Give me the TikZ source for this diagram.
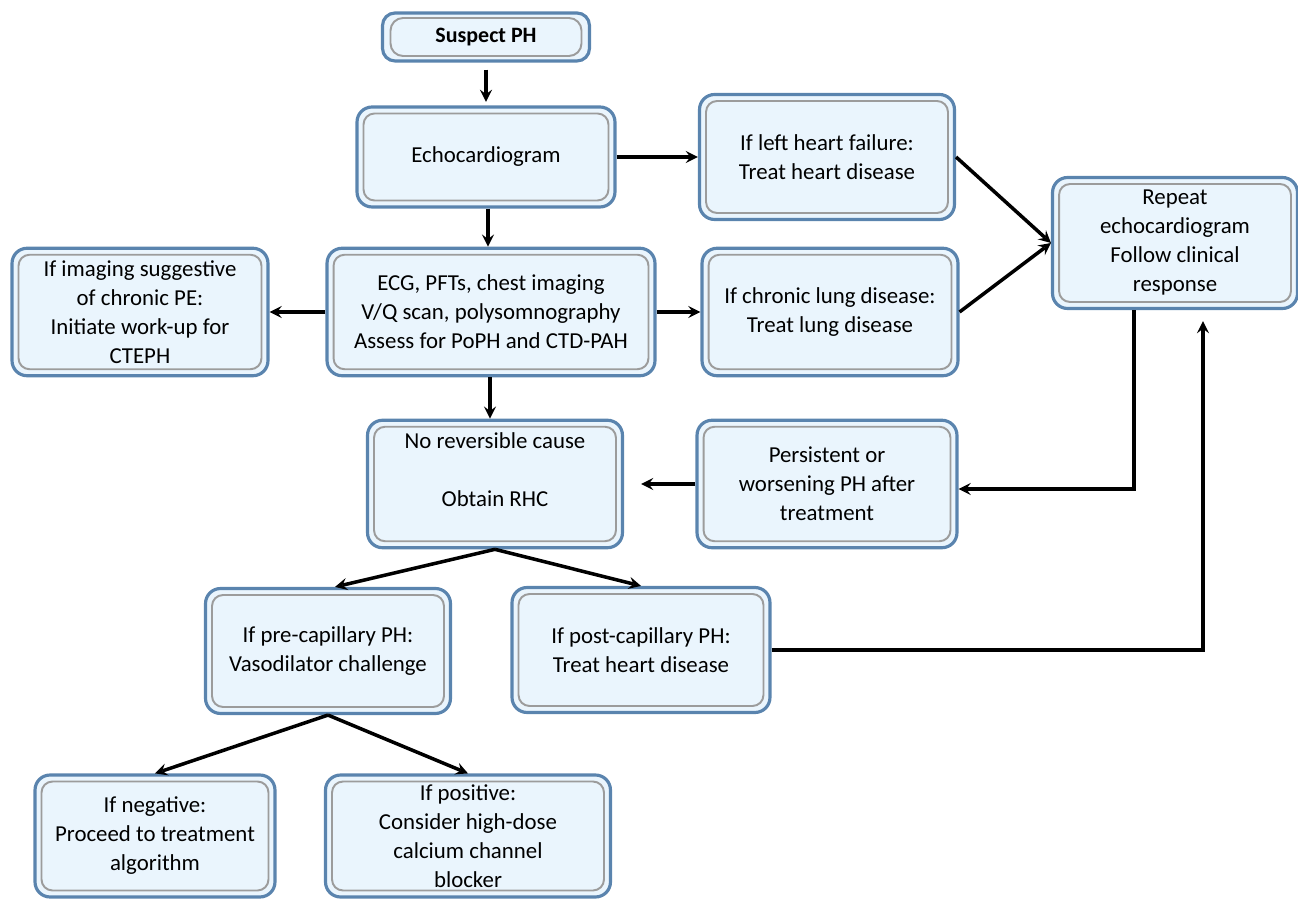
\documentclass[tikz,border=0pt]{standalone}
\usepackage{fontspec}
\setmainfont{Carlito}
\usetikzlibrary{arrows}

\definecolor{boxfill}{HTML}{EAF5FD}
\definecolor{boxedge}{HTML}{5A84AE}
\definecolor{boxinner}{HTML}{9C9C9C}

\tikzstyle{box} = [rectangle, rounded corners=0.3cm, minimum height=2.55cm, align=center, draw=boxedge, line width=1.8pt, fill=boxfill, font=\fontsize{13}{16.5}\selectfont, path picture={\draw[boxinner, line width=1.1pt, rounded corners=0.22cm] ([shift={(0.13cm,-0.13cm)}]path picture bounding box.north west) rectangle ([shift={(-0.13cm,0.13cm)}]path picture bounding box.south east);}]
\tikzstyle{topbox} = [rectangle, rounded corners=0.25cm, minimum width=4.14cm, minimum height=0.96cm, draw=boxedge, line width=1.8pt, fill=boxfill, font=\fontsize{12.5}{15.5}\selectfont\bfseries, path picture={\draw[boxinner, line width=1.1pt] ([shift={(0.16cm,-0.1cm)}]path picture bounding box.north west) rectangle ([shift={(-0.16cm,0.1cm)}]path picture bounding box.south east);}]
\tikzstyle{arrow} = [line width=2pt,->,>=stealth]

\begin{document}
\begin{tikzpicture}[x=0.02cm, y=-0.02cm]
    \useasboundingbox (0,0) rectangle (1298,901);

    \node (suspect) [topbox] at (486,37) {Suspect PH};
    \node (echo) [box, minimum width=5.16cm, minimum height=2cm] at (486,157) {Echocardiogram};
    \node (leftheart) [box, minimum width=5.1cm, minimum height=2.5cm] at (827,157) {If left heart failure:\\Treat heart disease};
    \node (repeat) [box, minimum width=4.9cm, minimum height=2.62cm] at (1175,243) {Repeat\\echocardiogram\\Follow clinical\\response};

    \node (imaging) [box, minimum width=5.12cm] at (140,312) {If imaging suggestive\\of chronic PE:\\Initiate work-up for\\CTEPH};
    \node (ecg) [box, minimum width=6.56cm] at (491,312) {ECG, PFTs, chest imaging\\V/Q scan, polysomnography\\Assess for PoPH and CTD-PAH};
    \node (lung) [box, minimum width=5.12cm] at (830,312) {If chronic lung disease:\\Treat lung disease};

    \node (norev) [box, minimum width=5.1cm] at (495,484) {No reversible cause\\[17pt]Obtain RHC\\~};
    \node (persist) [box, minimum width=5.2cm] at (827,484) {Persistent or\\worsening PH after\\treatment};

    \node (precap) [box, minimum width=4.9cm, minimum height=2.5cm] at (328,651) {If pre-capillary PH:\\Vasodilator challenge};
    \node (postcap) [box, minimum width=5.16cm, minimum height=2.5cm] at (641,650) {If post-capillary PH:\\Treat heart disease};

    \node (negative) [box, minimum width=4.8cm, minimum height=2.44cm] at (155,836) {If negative:\\Proceed to treatment\\algorithm};
    \node (positive) [box, minimum width=5.7cm, minimum height=2.44cm] at (468,836) {If positive:\\Consider high-dose\\calcium channel\\blocker};

    \draw [arrow, shorten <=4pt, shorten >=2pt] (suspect) -- (echo);
    \draw [arrow] (echo) -- (leftheart);
    \draw [arrow] ([xshift=0.04cm]echo.south) -- ([xshift=0.04cm]echo.south |- ecg.north);
    \draw [arrow] (ecg) -- (imaging);
    \draw [arrow] (ecg) -- (lung);
    \draw [arrow] ([xshift=-0.02cm]ecg.south) -- ([xshift=-0.02cm]ecg.south |- norev.north);

    \draw [arrow] (leftheart.east) -- (repeat.west);
    \draw [arrow] (lung.east) -- (repeat.west);
    \draw [arrow] ([xshift=-0.82cm]repeat.south) |- ([yshift=-0.1cm]persist.east);
    \draw [arrow, shorten >=0.34cm] (persist) -- (norev);

    \draw [arrow] (norev.south) -- ([xshift=0.14cm]precap.north);
    \draw [arrow] (norev.south) -- (postcap.north);
    \draw [arrow, shorten >=0.22cm] (postcap.east) -| ([xshift=0.56cm]repeat.south);

    \draw [arrow] (precap.south) -- (negative.north);
    \draw [arrow] (precap.south) -- (positive.north);

\end{tikzpicture}
\end{document}
